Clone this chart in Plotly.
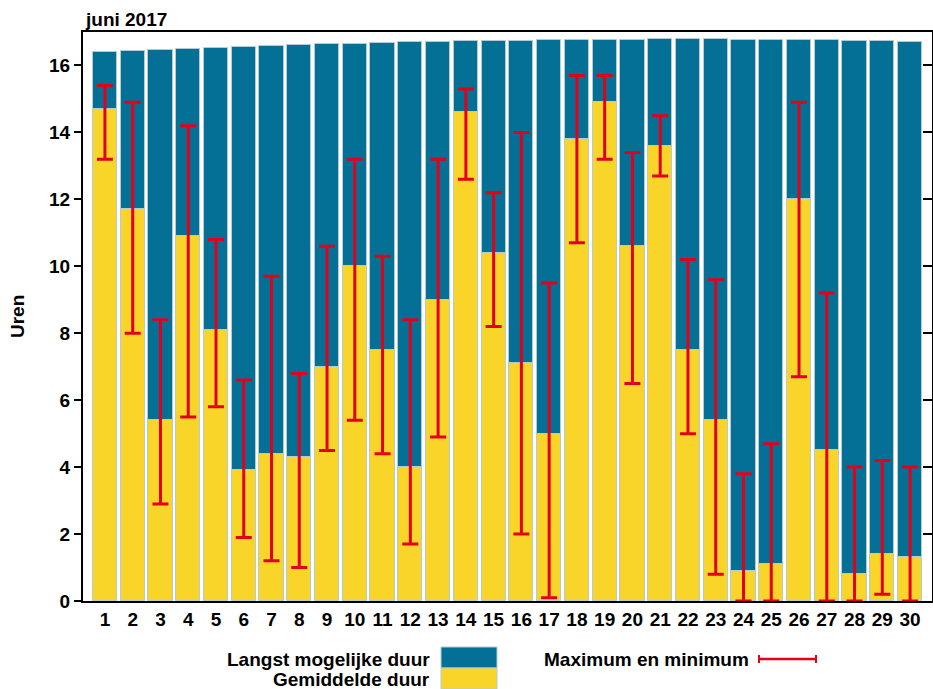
import plotly.graph_objects as go

days = list(range(1, 31))
day_labels = [str(d) for d in days]

langst = [16.40, 16.44, 16.47, 16.50, 16.53, 16.56, 16.59, 16.61, 16.63, 16.65,
          16.67, 16.69, 16.70, 16.72, 16.73, 16.74, 16.75, 16.76, 16.77, 16.77,
          16.78, 16.78, 16.78, 16.77, 16.77, 16.76, 16.75, 16.74, 16.72, 16.71]

gemiddeld = [14.7, 11.7, 5.4, 10.9, 8.1, 3.9, 4.4, 4.3, 7.0, 10.0,
             7.5, 4.0, 9.0, 14.6, 10.4, 7.1, 5.0, 13.8, 14.9, 10.6,
             13.6, 7.5, 5.4, 0.9, 1.1, 12.0, 4.5, 0.8, 1.4, 1.3]

maximum = [15.4, 14.9, 8.4, 14.2, 10.8, 6.6, 9.7, 6.8, 10.6, 13.2,
           10.3, 8.4, 13.2, 15.3, 12.2, 14.0, 9.5, 15.7, 15.7, 13.4,
           14.5, 10.2, 9.6, 3.8, 4.7, 14.9, 9.2, 4.0, 4.2, 4.0]

minimum = [13.2, 8.0, 2.9, 5.5, 5.8, 1.9, 1.2, 1.0, 4.5, 5.4,
           4.4, 1.7, 4.9, 12.6, 8.2, 2.0, 0.1, 10.7, 13.2, 6.5,
           12.7, 5.0, 0.8, 0.0, 0.0, 6.7, 0.0, 0.0, 0.2, 0.0]

BLUE = "#057096"
YELLOW = "#f9d52a"
RED = "#e3001b"
EDGE = "#b3cbd5"
FONT = "Liberation Sans"
FS = 19

mid = [(mx + mn) / 2 for mx, mn in zip(maximum, minimum)]
err_plus = [mx - m for mx, m in zip(maximum, mid)]
err_minus = [m - mn for m, mn in zip(mid, minimum)]

fig = go.Figure()
fig.add_trace(go.Bar(x=days, y=langst, width=0.87, marker=dict(color=BLUE, line=dict(color=EDGE, width=1)),
                     name="Langst mogelijke duur", showlegend=False))
fig.add_trace(go.Bar(x=days, y=gemiddeld, width=0.87, marker=dict(color=YELLOW, line=dict(color=EDGE, width=1)),
                     name="Gemiddelde duur", showlegend=False))
fig.add_trace(go.Scatter(x=days, y=mid, mode="markers", marker=dict(size=1, color="rgba(0,0,0,0)"),
                         error_y=dict(type="data", symmetric=False, array=err_plus, arrayminus=err_minus,
                                      color=RED, thickness=3, width=8),
                         name="Maximum en minimum", showlegend=False, hoverinfo="skip"))
# invisible trace for the right-hand tick axis
fig.add_trace(go.Scatter(x=[days[0]], y=[0], yaxis="y2", mode="markers",
                         marker=dict(size=1, color="rgba(0,0,0,0)"), showlegend=False, hoverinfo="skip"))

W, H = 933, 689
L, R, T, B = 83, 1, 32, 88
pw, ph = W - L - R, H - T - B

def px(x):
    return (x - L) / pw

def py(y):
    return (H - B - y) / ph

bold = dict(family=FONT, size=FS, color="black", weight="bold")

fig.update_layout(
    width=W, height=H,
    margin=dict(l=L, r=R, t=T, b=B, autoexpand=False),
    paper_bgcolor="white", plot_bgcolor="white",
    barmode="overlay", bargap=0,
    font=dict(family=FONT, size=FS, color="black"),
    xaxis=dict(range=[0.21, 30.79], tickmode="array", tickvals=days, ticktext=day_labels,
               showline=True, linecolor="black", linewidth=2, mirror=True, ticks="",
               showgrid=False, zeroline=False, fixedrange=True, tickfont=bold),
    yaxis=dict(range=[0, 17], tickmode="array", tickvals=list(range(0, 17, 2)),
               showline=True, linecolor="black", linewidth=2, mirror=True,
               ticks="outside", ticklen=7, tickwidth=1.5, tickcolor="black",
               showgrid=False, zeroline=False, tickfont=bold),
    yaxis2=dict(range=[0, 17], overlaying="y", anchor="x", side="right", tickmode="array",
                tickvals=list(range(0, 17, 2)), showticklabels=False,
                ticks="inside", ticklen=9, tickwidth=1.5, tickcolor="black",
                showgrid=False, zeroline=False, showline=False),
)

ann = [
    dict(text="juni 2017", xref="paper", yref="paper", x=0, y=1, xanchor="left", yanchor="bottom",
         yshift=0, showarrow=False, font=bold),
    dict(text="Uren", xref="paper", yref="paper", x=px(17), y=py(317), textangle=-90,
         xanchor="center", yanchor="middle", showarrow=False, font=bold),
    dict(text="Langst mogelijke duur", xref="paper", yref="paper", x=px(432), y=py(659),
         xanchor="right", yanchor="middle", showarrow=False, font=bold),
    dict(text="Gemiddelde duur", xref="paper", yref="paper", x=px(432), y=py(679),
         xanchor="right", yanchor="middle", showarrow=False, font=bold),
    dict(text="Maximum en minimum", xref="paper", yref="paper", x=px(542), y=py(659),
         xanchor="left", yanchor="middle", showarrow=False, font=bold),
]
fig.update_layout(annotations=ann)

shapes = [
    dict(type="rect", xref="paper", yref="paper", x0=px(441), x1=px(497), y0=py(668), y1=py(647),
         fillcolor=BLUE, line=dict(color=EDGE, width=1)),
    dict(type="rect", xref="paper", yref="paper", x0=px(441), x1=px(497), y0=py(689), y1=py(668),
         fillcolor=YELLOW, line=dict(color=EDGE, width=1)),
    dict(type="line", xref="paper", yref="paper", x0=px(759), x1=px(816), y0=py(659), y1=py(659),
         line=dict(color=RED, width=2.5)),
    dict(type="line", xref="paper", yref="paper", x0=px(759), x1=px(759), y0=py(655), y1=py(663),
         line=dict(color=RED, width=2)),
    dict(type="line", xref="paper", yref="paper", x0=px(816), x1=px(816), y0=py(655), y1=py(663),
         line=dict(color=RED, width=2)),
]
fig.update_layout(shapes=shapes)

fig.write_html("out.html", config={"displayModeBar": False},
               post_script="document.body.style.margin='0';document.body.style.overflow='hidden';")
